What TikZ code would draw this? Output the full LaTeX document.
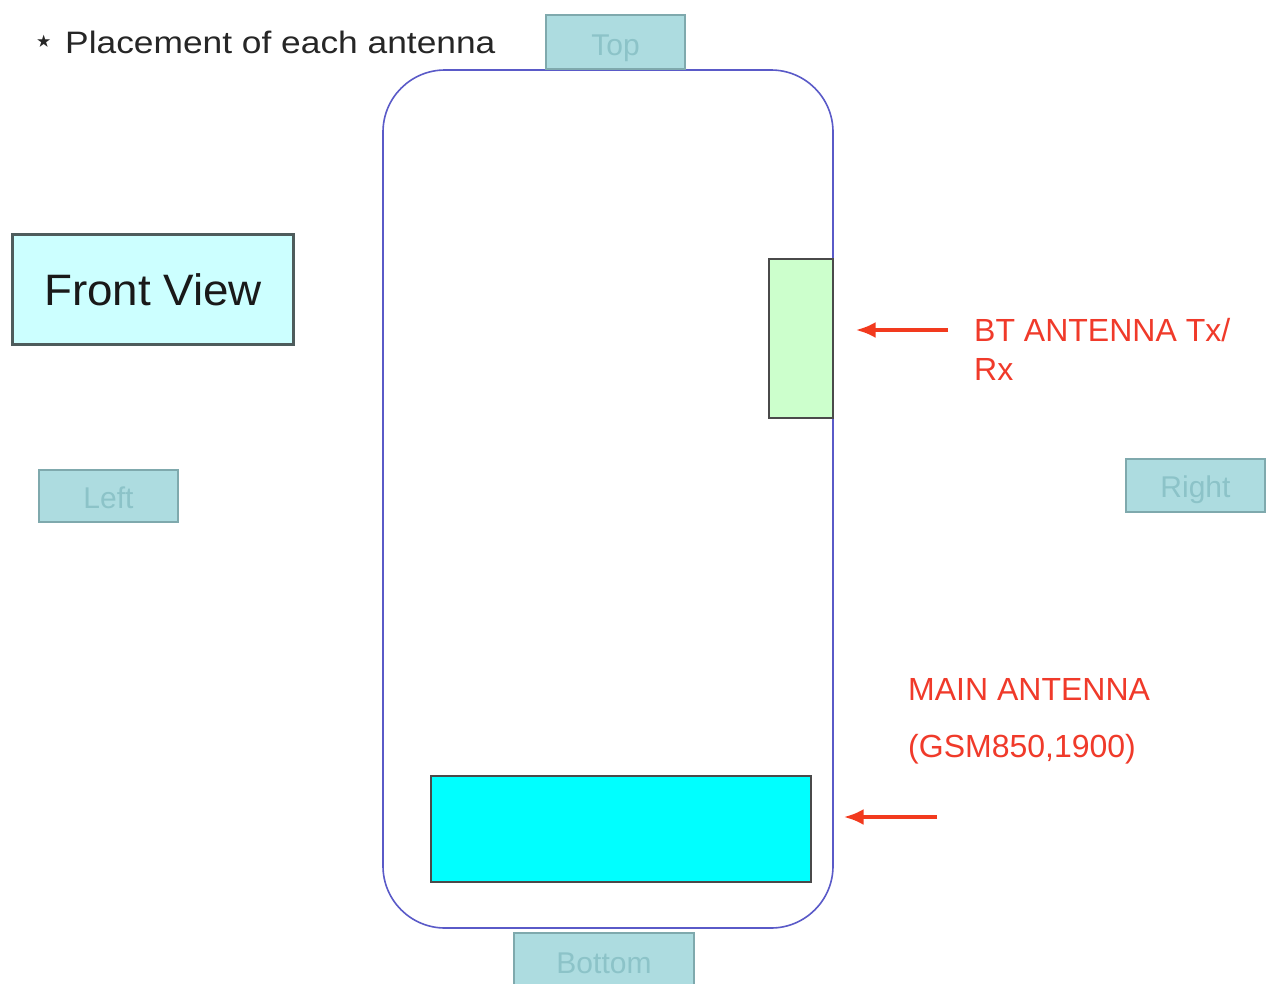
\documentclass[tikz,border=0pt]{standalone}
\usepackage{fontspec}
\setmainfont{Liberation Sans}
\newfontfamily\symfont{DejaVu Sans}
\usetikzlibrary{arrows.meta}
\definecolor{tabfill}{HTML}{ADDCE0}
\definecolor{tabdraw}{HTML}{7FA9AD}
\definecolor{tabtext}{HTML}{8CC3C8}
\definecolor{phoneblue}{HTML}{5A5AC8}
\definecolor{fvfill}{HTML}{CCFFFF}
\definecolor{fvdraw}{HTML}{4E5C5C}
\definecolor{btgreen}{HTML}{CCFFCC}
\definecolor{maincyan}{HTML}{00FFFF}
\definecolor{boxdraw}{HTML}{4A4A4A}
\definecolor{arrred}{HTML}{F23A1E}
\definecolor{txtred}{HTML}{F03A2A}
\tikzset{
  tab/.style={draw=tabdraw, fill=tabfill, line width=2pt, text=tabtext,
    font=\fontsize{30}{34}\selectfont, inner sep=0pt, anchor=north west},
  redtext/.style={text=txtred, font=\fontsize{32}{39}\selectfont, anchor=west, inner sep=0pt},
  redarrow/.style={draw=arrred, line width=4pt, -{Latex[length=20pt,width=16pt]}},
}
\begin{document}
\begin{tikzpicture}[x=1pt,y=-1pt]
\useasboundingbox (0,0) rectangle (1272,983);
\fill[white] (0,0) rectangle (1272,983);

% title
\node[anchor=center, inner sep=0pt, font=\fontsize{34}{36}\selectfont\symfont, text=black!85] (star) at (44,44) {⋆};
\node[anchor=west, inner sep=0pt, font=\fontsize{31}{36}\selectfont, text=black!85] (title) at (65,42) {\scalebox{1.14}[1]{Placement of each antenna}};

% phone outline
\draw[phoneblue, line width=1.6pt, rounded corners=62pt] (383,70) rectangle (833,928);

% tabs
\node[tab, minimum width=139pt, minimum height=54pt, text depth=0pt, text height=26pt] (top) at (545,14) {Top};
\node[tab, minimum width=139pt, minimum height=52pt, text depth=0pt, text height=24pt] (left) at (38,469) {Left};
\node[tab, minimum width=139pt, minimum height=53pt, text depth=0pt, text height=24pt] (right) at (1125,458) {Right};
\node[tab, minimum width=180pt, minimum height=60pt] (bottom) at (513,932) {Bottom};

% front view
\node[draw=fvdraw, fill=fvfill, line width=3pt, anchor=north west, minimum width=281pt, minimum height=110pt,
  inner sep=0pt, font=\fontsize{44}{50}\selectfont, text=black!90] (fv) at (11,233) {\scalebox{1.04}[1]{Front View}};

% antennas
\node[draw=boxdraw, fill=btgreen, line width=1.6pt, anchor=north west, minimum width=64pt, minimum height=159pt, inner sep=0pt] (bt) at (768,258) {};
\node[draw=boxdraw, fill=maincyan, line width=1.6pt, anchor=north west, minimum width=380pt, minimum height=106pt, inner sep=0pt] (main) at (430,775) {};

% labels
\node[redtext, align=left, anchor=north west] (btl) at (974,318) {BT ANTENNA Tx/\\Rx};
\node[redtext] (mainl1) at (908,689) {MAIN ANTENNA};
\node[redtext] (mainl2) at (908,749) {(GSM850,1900)};

% arrows
\coordinate (bta) at (948,330);
\coordinate (maina) at (937,817);
\draw[redarrow] (bta) -- ([xshift=22pt]bt.east |- bta);
\draw[redarrow] (maina) -- ([xshift=32pt]main.east |- maina);
\end{tikzpicture}
\end{document}
